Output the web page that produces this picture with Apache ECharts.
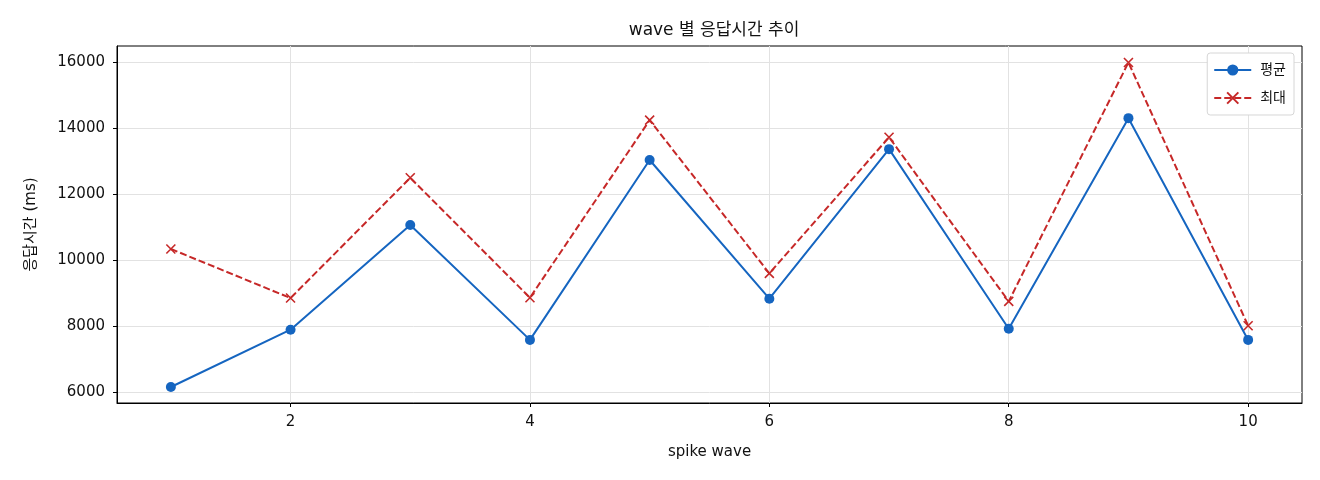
<!DOCTYPE html>
<html>
<head>
<meta charset="utf-8">
<script src="https://cdn.jsdelivr.net/npm/echarts@6/dist/echarts.min.js"></script>
<style>
  html, body { margin: 0; padding: 0; background: #fff; }
  #main { width: 1320px; height: 480px; }
</style>
</head>
<body>
<div id="main"></div>
<script>
var waves = [1, 2, 3, 4, 5, 6, 7, 8, 9, 10];
var avgMs = [6150, 7890, 11070, 7580, 13040, 8830, 13370, 7920, 14310, 7580];
var maxMs = [10340, 8850, 12500, 8860, 14250, 9600, 13730, 8750, 16000, 8010];
var xTicks = [2, 4, 6, 8, 10];
var yTicks = [6000, 8000, 10000, 12000, 14000, 16000];

var FONT = "'DejaVu Sans', 'Noto Sans CJK KR', sans-serif";

function pairs(vals) {
    return waves.map(function (w, i) { return [w, vals[i]]; });
}

var myChart = echarts.init(document.getElementById('main'));

var option = {
    animation: false,
    textStyle: { fontFamily: FONT },
    title: {
        text: 'wave 별 응답시간 추이',
        left: 709, textAlign: 'center',
        top: 17,
        textStyle: { fontSize: 17, fontWeight: 'normal', color: '#111', fontFamily: FONT }
    },
    legend: {
        right: 26, top: 53,
        orient: 'vertical',
        itemGap: 14,
        itemWidth: 37, itemHeight: 14,
        padding: [10, 8, 10, 6],
        backgroundColor: '#fff',
        borderColor: '#d6d6d6', borderWidth: 1, borderRadius: 3,
        textStyle: { fontSize: 14, color: '#111', fontFamily: FONT, padding: [0, 0, 0, 4] },
        data: ['평균', '최대']
    },
    grid: {
        left: 117, right: 18, top: 46, bottom: 77,
        show: true, borderColor: '#000', borderWidth: 1
    },
    xAxis: {
        type: 'value',
        min: 0.55, max: 10.45,
        name: 'spike wave',
        nameLocation: 'middle',
        nameGap: 42,
        nameTextStyle: { fontSize: 15, color: '#111' },
        axisLine: { show: true, onZero: false, lineStyle: { color: '#000' } },
        axisTick: { show: true, length: 4, customValues: xTicks, lineStyle: { color: '#000' } },
        axisLabel: { customValues: xTicks, fontSize: 15, color: '#111', margin: 12,
            formatter: function (v) { return String(v); } },
        splitLine: { show: true, lineStyle: { color: '#e2e2e2', width: 1 } }
    },
    yAxis: {
        type: 'value',
        min: 5665, max: 16500,
        name: '응답시간 (ms)',
        nameLocation: 'middle',
        nameGap: 78,
        nameTextStyle: { fontSize: 15, color: '#111' },
        axisLine: { show: true, onZero: false, lineStyle: { color: '#000' } },
        axisTick: { show: true, length: 4, customValues: yTicks, lineStyle: { color: '#000' } },
        axisLabel: { customValues: yTicks, fontSize: 15, color: '#111', margin: 12,
            formatter: function (v) { return String(v); } },
        splitLine: { show: true, lineStyle: { color: '#e2e2e2', width: 1 } }
    },
    series: [
        {
            name: '평균',
            type: 'line',
            data: pairs(avgMs),
            symbol: 'circle',
            symbolSize: 10,
            color: '#1565C0',
            lineStyle: { width: 2, color: '#1565C0' },
            itemStyle: { color: '#1565C0' },
            z: 3
        },
        {
            name: '최대',
            type: 'line',
            data: pairs(maxMs),
            symbol: 'path://M0,0L10,10M10,0L0,10',
            symbolSize: 9,
            color: '#C62828',
            lineStyle: { width: 2, color: '#C62828', type: [7, 3] },
            itemStyle: { color: '#C62828', borderColor: '#C62828', borderWidth: 1.6 },
            z: 2
        }
    ]
};

myChart.setOption(option);
</script>
</body>
</html>
